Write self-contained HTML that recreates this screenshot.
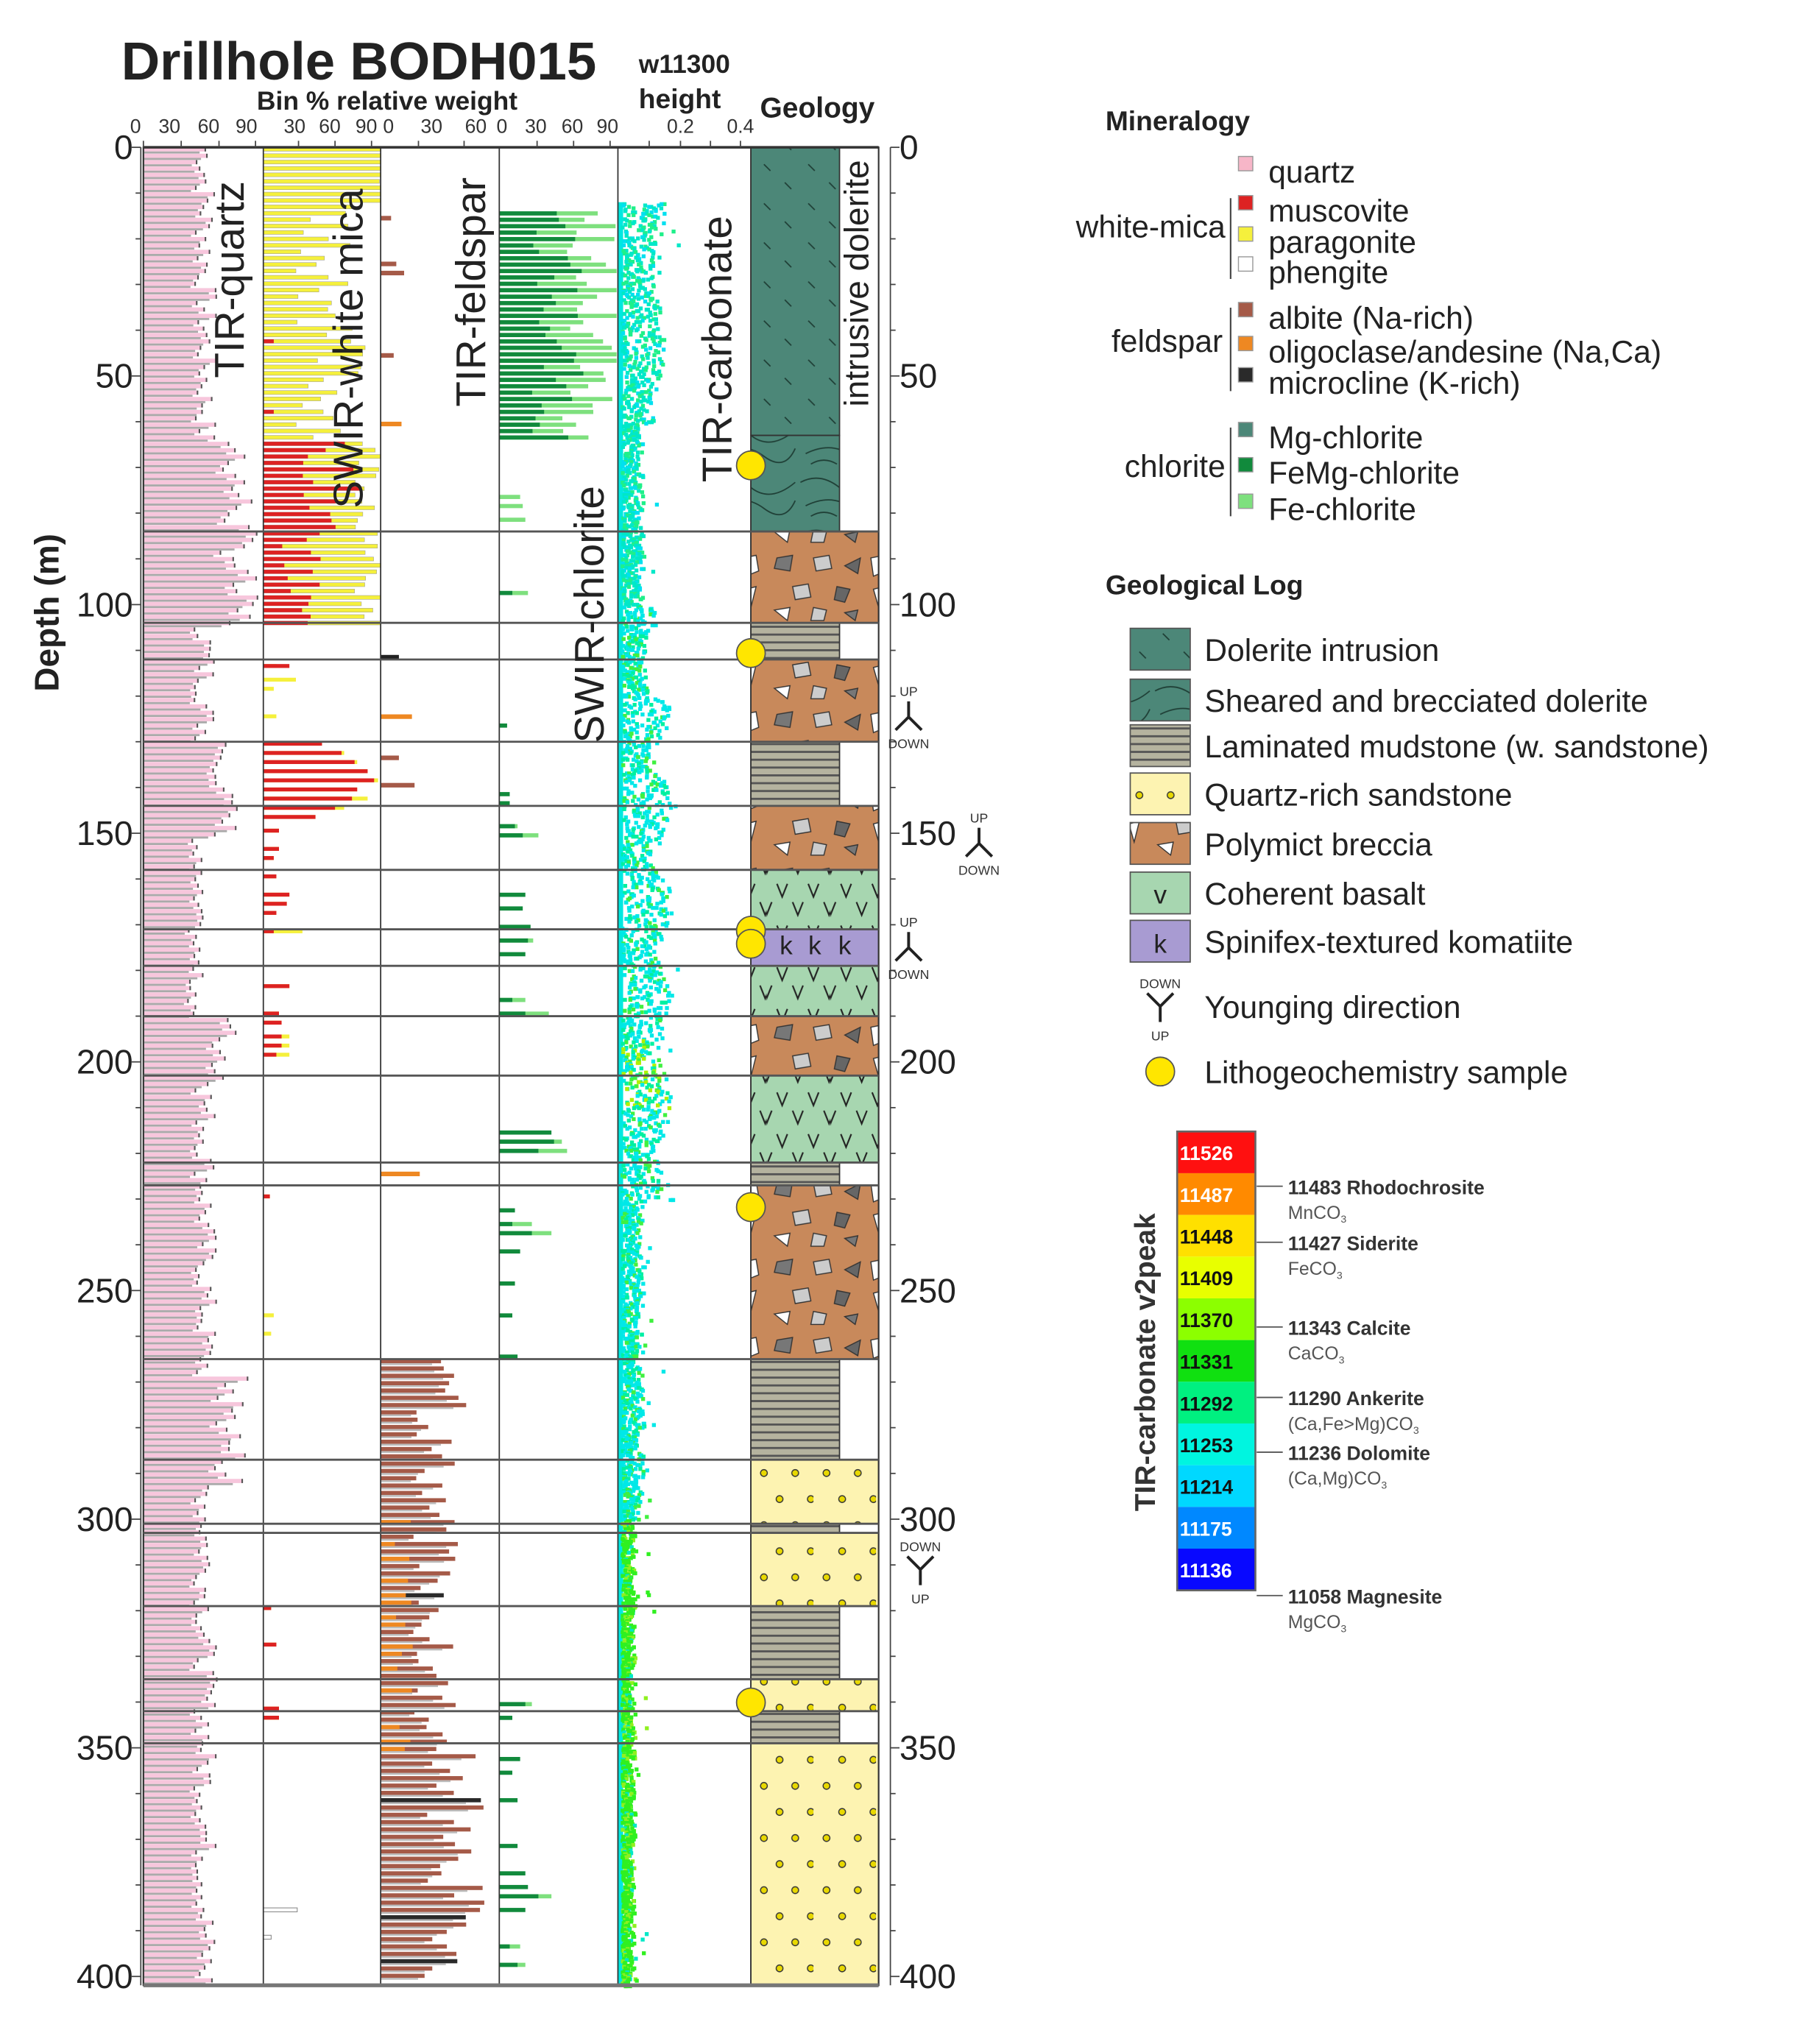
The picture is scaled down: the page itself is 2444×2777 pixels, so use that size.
<!DOCTYPE html>
<html><head><meta charset="utf-8"><style>
html,body{margin:0;padding:0;background:#fff;}
svg{display:block;font-family:"Liberation Sans",sans-serif;}
</style></head><body>
<svg id="s" width="2444" height="2777" viewBox="0 0 1380 1568" xmlns="http://www.w3.org/2000/svg">
<defs>
<pattern id="pDol" width="34" height="30" patternUnits="userSpaceOnUse">
<rect width="34" height="30" fill="#4c8778"/>
<path d="M8 6 l5 5 M24 20 l5 5" stroke="#1f3f36" stroke-width="1"/>
</pattern>
<pattern id="pShear" width="68" height="40" patternUnits="userSpaceOnUse">
<rect width="68" height="40" fill="#4c8778"/>
<path d="M2 10 q15 -8 30 4 t34 -4 M6 28 q20 -10 36 2 t24 -6 M10 36 q10 -6 20 0" stroke="#1f3f36" fill="none" stroke-width="1"/>
</pattern>
<pattern id="pLam" width="10" height="6" patternUnits="userSpaceOnUse">
<rect width="10" height="6" fill="#b5b39f"/>
<rect y="0" width="10" height="1.6" fill="#555"/>
</pattern>
<pattern id="pSand" width="48" height="40" patternUnits="userSpaceOnUse">
<rect width="48" height="40" fill="#fdf3b1"/>
<g fill="#e8d800" stroke="#333" stroke-width="0.8"><circle cx="10" cy="10" r="2.6"/><circle cx="34" cy="10" r="2.6"/><circle cx="22" cy="30" r="2.6"/><circle cx="46" cy="30" r="2.6"/></g>
</pattern>
<pattern id="pBrec" width="98" height="60" patternUnits="userSpaceOnUse">
<rect width="98" height="60" fill="#c8895b"/>
<g stroke="#333" stroke-width="0.8">
<polygon points="8,8 20,6 18,18 6,16" fill="#777"/>
<polygon points="36,8 48,6 50,16 38,18" fill="#ccc"/>
<polygon points="60,14 72,8 70,20" fill="#666"/>
<polygon points="80,8 90,6 92,18 82,22" fill="#fff"/>
<polygon points="20,30 32,28 34,38 22,40" fill="#ccc"/>
<polygon points="54,30 64,32 60,42 52,40" fill="#666"/>
<polygon points="82,32 90,30 86,46" fill="#fff"/>
<polygon points="6,48 18,46 16,56" fill="#fff"/>
<polygon points="36,46 46,48 44,56 34,56" fill="#ccc"/>
<polygon points="60,50 70,48 68,56" fill="#777"/>
</g>
</pattern>
<pattern id="pBas" width="49" height="32" patternUnits="userSpaceOnUse">
<rect width="49" height="32" fill="#a7d6b0"/>
<path d="M8 6 l4 10 l4 -10 M32 6 l4 10 l4 -10 M20 20 l4 10 l4 -10 M44 20 l4 10 l4 -10 M-4 20 l4 10 l4 -10" stroke="#222" fill="none" stroke-width="1.2"/>
</pattern>
</defs>
<g id="data"></g>
<g id="static">
<text x="93" y="61" font-size="41" font-weight="bold" fill="#222">Drillhole BODH015</text>
<text x="490" y="56" font-size="20" font-weight="bold" fill="#222">w11300</text>
<text x="490" y="83" font-size="21" font-weight="bold" fill="#222">height</text>
<text x="297" y="84" font-size="20" font-weight="bold" fill="#222" text-anchor="middle">Bin % relative weight</text>
<text x="583" y="90" font-size="22" font-weight="bold" fill="#222">Geology</text>
<text transform="translate(45,470) rotate(-90)" font-size="26" font-weight="bold" fill="#222" text-anchor="middle">Depth (m)</text>
</g>
</svg>
<script>
(function(){
var s=document.getElementById('data');var h='';
var Y=function(d){return 113+d*3.508;};
var seed=7;function r(){seed=(seed*9301+49297)%233280;return seed/233280;}
var bot=1523;
var cols=[110,202,292,383,474,576];
for(var d=0;d<401;d+=1.4){
 var v=40+r()*18; if(d>63&&d<104)v=60+r()*30; if(d>130&&d<150)v=55+r()*20; if(d>190&&d<205)v=50+r()*25; if(d>268&&d<292)v=55+r()*28;
 if(d>150&&d<190)v=35+r()*12;
 var w=v*0.98;var y=Y(d);
 h+='<rect x="110" y="'+y.toFixed(1)+'" width="'+w.toFixed(1)+'" height="3.2" fill="#f7c6dc"/><rect x="110" y="'+(y+3.2).toFixed(1)+'" width="'+(w*0.9).toFixed(1)+'" height="1.6" fill="#aaa"/><rect x="'+(110+w-1).toFixed(1)+'" y="'+y.toFixed(1)+'" width="1.2" height="3.2" fill="#555"/>';
}
for(d=0;d<104;d+=1.4){
 var y=Y(d);var tot,red=0;
 if(d<12){tot=88+r()*10;} else if(d<63){tot=25+r()*55;} else {tot=70+r()*25;red=30+r()*45;}
 if(d>84){red=10+r()*35;}
 if(d>40&&d<63&&r()<0.2)red=8;
 h+='<rect x="202" y="'+y.toFixed(1)+'" width="'+Math.min(tot,90).toFixed(1)+'" height="3" fill="#f5f03c" stroke="#999" stroke-width="0.3"/>';
 if(red)h+='<rect x="202" y="'+y.toFixed(1)+'" width="'+red.toFixed(1)+'" height="3" fill="#dd2222"/>';
}
var wm=[[113,20,10],[116,0,25],[118,0,8],[124,0,10],[130,45,45],[132,60,62],[134,70,72],[136,80,80],[138,85,88],[140,72,72],[142,68,80],[144,55,62],[146,40,40],[149,12,12],[153,12,12],[155,8,8],[159,10,10],[163,20,20],[165,18,18],[167,10,10],[171,8,30],[183,20,20],[189,12,12],[191,14,14],[194,14,20],[196,14,20],[198,10,20],[229,5,5],[255,0,8],[259,0,6],[319,6,6],[327,10,10],[341,12,12],[343,12,12]];
wm.forEach(function(a){var y=Y(a[0]);h+='<rect x="202" y="'+y.toFixed(1)+'" width="'+a[2]+'" height="3" fill="#f5f03c"/><rect x="202" y="'+y.toFixed(1)+'" width="'+a[1]+'" height="3" fill="#dd2222"/>';});
h+='<rect x="202" y="'+Y(385).toFixed(1)+'" width="26" height="3" fill="#fff" stroke="#888" stroke-width="0.6"/><rect x="202" y="'+Y(391).toFixed(1)+'" width="6" height="3" fill="#fff" stroke="#888" stroke-width="0.6"/>';
var fs=[[15,0,8],[25,0,12],[27,0,18],[45,0,10],[60,16,0],[111,0,0,14],[124,24,0],[133,0,14],[139,0,26],[224,30,0]];
fs.forEach(function(a){var y=Y(a[0]);h+='<rect x="292" y="'+y.toFixed(1)+'" width="'+(a[1]||a[2]||a[3])+'" height="3.5" fill="'+(a[1]?'#ee8822':(a[3]?'#222':'#a55a48'))+'"/>';});
for(d=265;d<401;d+=1.6){
 var y=Y(d);var v=25+r()*35; if(d<275)v=45+r()*30; if(d>350&&d<395)v=35+r()*45;
 var k=(r()<0.06)?'#2a2a2a':'#a55a48';
 h+='<rect x="292" y="'+y.toFixed(1)+'" width="'+v.toFixed(1)+'" height="3.2" fill="'+k+'"/><rect x="292" y="'+(y+3.2).toFixed(1)+'" width="'+(v*0.85).toFixed(1)+'" height="1.4" fill="#bbb"/>';
 if(d>300&&d<352&&r()<0.45)h+='<rect x="292" y="'+y.toFixed(1)+'" width="'+(10+r()*15).toFixed(1)+'" height="3.2" fill="#ee8822"/>';
}
for(d=14;d<64;d+=1.4){
 var y=Y(d);var dk=25+r()*40,tot=dk+15+r()*25;
 h+='<rect x="383" y="'+y.toFixed(1)+'" width="'+Math.min(tot,90).toFixed(1)+'" height="3.2" fill="#7ee07e"/><rect x="383" y="'+y.toFixed(1)+'" width="'+dk.toFixed(1)+'" height="3.2" fill="#118a3c"/>';
}
var ch=[[76,0,16],[78,0,18],[81,0,20],[97,10,22],[126,6,0],[141,8,0],[143,8,0],[148,12,14],[150,18,30],[163,20,0],[166,18,0],[170,24,0],[173,22,26],[176,20,0],[186,10,20],[189,20,38],[215,40,0],[217,42,48],[219,30,52],[232,12,0],[235,10,25],[237,25,40],[241,16,0],[248,12,0],[255,10,0],[264,14,0],[340,20,25],[343,10,0],[352,16,0],[355,10,0],[361,14,0],[371,14,0],[377,20,0],[380,22,0],[382,30,40],[385,20,0],[393,8,16],[397,14,20]];
ch.forEach(function(a){var y=Y(a[0]);if(a[2])h+='<rect x="383" y="'+y.toFixed(1)+'" width="'+a[2]+'" height="3.2" fill="#7ee07e"/>';h+='<rect x="383" y="'+y.toFixed(1)+'" width="'+a[1]+'" height="3.2" fill="#118a3c"/>';});
// carbonate scatter
h+='<rect x="474" y="'+Y(12)+'" width="4" height="'+(bot-Y(12))+'" fill="#00e8e0"/>';
for(d=12;d<402;d+=0.3){
 var env=12+10*Math.abs(Math.sin(d/9))+6*r();
 if(d<60)env+=6; if(d>60&&d<100)env=10+8*r();
 if(d>120&&d<230)env=18+14*Math.abs(Math.sin(d/7))+8*r();
 if(d>230&&d<300)env=10+8*r();
 if(d>300)env=5+6*r();
 var n=3;
 for(var i=0;i<n;i++){
  var x=476+r()*env+(r()<0.02?r()*20:0);
  var c; var q=r();
  if(d<100)c=q<0.5?'#00e8c8':(q<0.8?'#1ff08a':'#00e0f0');
  else if(d<300)c=q<0.6?'#00e8e8':(q<0.85?'#00f0a0':'#40f040');
  else c=q<0.7?'#30f020':(q<0.9?'#90f020':'#00e8c8');
  if(d>195&&d<210&&q<0.3)c='#b0f000';
  h+='<rect x="'+x.toFixed(1)+'" y="'+Y(d).toFixed(1)+'" width="3" height="3" fill="'+c+'"/>';
 }
}
var G=[[0,63,'pDol',644],[63,84,'pShear',644],[84,104,'pBrec',674],[104,112,'pLam',644],[112,130,'pBrec',674],[130,144,'pLam',644],[144,158,'pBrec',674],[158,171,'pBas',674],[171,179,'#a89bd2',674],[179,190,'pBas',674],[190,203,'pBrec',674],[203,222,'pBas',674],[222,227,'pLam',644],[227,265,'pBrec',674],[265,287,'pLam',644],[287,301,'pSand',674],[301,303,'pLam',644],[303,319,'pSand',674],[319,335,'pLam',644],[335,342,'pSand',674],[342,349,'pLam',644],[349,402,'pSand',674]];
G.forEach(function(g){var y1=Y(g[0]),y2=Math.min(Y(g[1]),bot);var f=g[2][0]=='#'?g[2]:'url(#'+g[2]+')';h+='<rect x="576" y="'+y1.toFixed(1)+'" width="'+(g[3]-576)+'" height="'+(y2-y1).toFixed(1)+'" fill="'+f+'" stroke="#333" stroke-width="1"/>';});
h+='<text x="598" y="732" font-size="20" fill="#222">k</text><text x="620" y="732" font-size="20" fill="#222">k</text><text x="643" y="732" font-size="20" fill="#222">k</text>';
h+='<rect x="110" y="113" width="564" height="'+(bot-113)+'" fill="none" stroke="#333" stroke-width="1.2"/>';
cols.forEach(function(x){h+='<line x1="'+x+'" y1="113" x2="'+x+'" y2="'+bot+'" stroke="#333" stroke-width="1"/>';});
h+='<line x1="110" y1="113" x2="674" y2="113" stroke="#333" stroke-width="2"/><line x1="110" y1="'+bot+'" x2="674" y2="'+bot+'" stroke="#777" stroke-width="3"/>';
[84,104,112,130,144,158,171,179,190,203,222,227,265,287,301,303,319,335,342,349].forEach(function(d){h+='<line x1="110" y1="'+Y(d).toFixed(1)+'" x2="674" y2="'+Y(d).toFixed(1)+'" stroke="#555" stroke-width="1.6"/>';});
h+='<line x1="108" y1="113" x2="108" y2="'+bot+'" stroke="#444"/><line x1="683" y1="113" x2="683" y2="'+bot+'" stroke="#444"/>';
for(d=0;d<=400;d+=10){var y=Y(d).toFixed(1);var L=d%50==0?7:4;h+='<line x1="'+(108-L)+'" y1="'+y+'" x2="108" y2="'+y+'" stroke="#444"/><line x1="683" y1="'+y+'" x2="'+(683+L)+'" y2="'+y+'" stroke="#444"/>';
 if(d%50==0){h+='<text x="102" y="'+(Y(d)+9).toFixed(1)+'" font-size="26" text-anchor="end" fill="#222">'+d+'</text><text x="690" y="'+(Y(d)+9).toFixed(1)+'" font-size="26" fill="#222">'+d+'</text>';}}
function tl(x,t){h+='<text x="'+x+'" y="102" font-size="15" text-anchor="middle" fill="#333">'+t+'</text>';}
[[104,'0'],[130,'30'],[160,'60'],[189,'90'],[226,'30'],[253,'60'],[281,'90'],[298,'0'],[331,'30'],[365,'60'],[385,'0'],[411,'30'],[439,'60'],[466,'90'],[522,'0.2'],[568,'0.4']].forEach(function(a){tl(a[0],a[1]);});
[110,139,168,196,229,257,285,321,356,412,440,468,498,522,545,568].forEach(function(x){h+='<line x1="'+x+'" y1="108" x2="'+x+'" y2="113" stroke="#444"/>';});
function rt(x,y,t,fs){h+='<text transform="translate('+x+','+y+') rotate(-90)" font-size="'+(fs||32)+'" fill="#222">'+t+'</text>';}
rt(187,290,'TIR-quartz');rt(278,390,'SWIR-white mica');rt(372,312,'TIR-feldspar');rt(463,570,'SWIR-chlorite');rt(561,370,'TIR-carbonate');rt(666,312,'intrusive dolerite',26);
[357,501,714,724,926,1306].forEach(function(y){h+='<circle cx="576" cy="'+y+'" r="11" fill="#ffe600" stroke="#555" stroke-width="1"/>';});
function yo(x,y,up){ if(up){h+='<text x="'+x+'" y="'+(y-14)+'" font-size="10" text-anchor="middle" fill="#333">UP</text><path d="M'+x+' '+(y-10)+' v12 l-10 10 M'+x+' '+(y+2)+' l10 10" stroke="#222" stroke-width="2.2" fill="none"/><text x="'+x+'" y="'+(y+26)+'" font-size="10" text-anchor="middle" fill="#333">DOWN</text>';}
 else{h+='<text x="'+x+'" y="'+(y-14)+'" font-size="10" text-anchor="middle" fill="#333">DOWN</text><path d="M'+x+' '+(y+12)+' v-12 l-10 -10 M'+x+' '+y+' l10 -10" stroke="#222" stroke-width="2.2" fill="none"/><text x="'+x+'" y="'+(y+26)+'" font-size="10" text-anchor="middle" fill="#333">UP</text>';}}
yo(697,548,1);yo(751,645,1);yo(697,725,1);yo(706,1204,0);
h+='<text x="848" y="100" font-size="21" font-weight="bold" fill="#222">Mineralogy</text>';
var ml=[[133,'#f7b6c8','quartz'],[163,'#dd2222','muscovite'],[187,'#f5f03c','paragonite'],[210,'#ffffff','phengite'],[245,'#a55a48','albite (Na-rich)'],[271,'#ee8822','oligoclase/andesine (Na,Ca)'],[295,'#2a2a2a','microcline (K-rich)'],[337,'#4c8778','Mg-chlorite'],[364,'#118a3c','FeMg-chlorite'],[392,'#7ee07e','Fe-chlorite']];
ml.forEach(function(a){h+='<rect x="950" y="'+(a[0]-13)+'" width="11" height="11" fill="'+a[1]+'" stroke="#999" stroke-width="0.8"/><text x="973" y="'+(a[0]+7)+'" font-size="24" fill="#222">'+a[2]+'</text>';});
h+='<text x="940" y="182" font-size="24" text-anchor="end" fill="#222">white-mica</text><text x="938" y="270" font-size="24" text-anchor="end" fill="#222">feldspar</text><text x="940" y="366" font-size="24" text-anchor="end" fill="#222">chlorite</text>';
h+='<path d="M944 152 v62 M944 236 v64 M944 328 v68" stroke="#444" stroke-width="1.2"/>';
h+='<text x="848" y="456" font-size="21" font-weight="bold" fill="#222">Geological Log</text>';
var gl=[[498,'pDol','Dolerite intrusion'],[537,'pShear','Sheared and brecciated dolerite'],[572,'pLam','Laminated mudstone (w. sandstone)'],[609,'pSand','Quartz-rich sandstone'],[647,'pBrec','Polymict breccia'],[685,'#a7d6b0','Coherent basalt'],[722,'#a89bd2','Spinifex-textured komatiite']];
gl.forEach(function(a){var f=a[1][0]=='#'?a[1]:'url(#'+a[1]+')';h+='<rect x="867" y="'+(a[0]-16)+'" width="46" height="32" fill="'+f+'" stroke="#555"/><text x="924" y="'+(a[0]+9)+'" font-size="24" fill="#222">'+a[2]+'</text>';});
h+='<text x="890" y="693" font-size="20" text-anchor="middle" fill="#222">v</text><text x="890" y="731" font-size="20" text-anchor="middle" fill="#222">k</text>';
yo(890,772,0);
h+='<text x="924" y="781" font-size="24" fill="#222">Younging direction</text>';
h+='<circle cx="890" cy="822" r="11" fill="#ffe600" stroke="#555"/><text x="924" y="831" font-size="24" fill="#222">Lithogeochemistry sample</text>';
var cb=[['#ff1010','11526','#fff'],['#ff8a00','11487','#fff'],['#ffe000','11448','#111'],['#e8ff00','11409','#111'],['#8cff00','11370','#111'],['#10e010','11331','#111'],['#00f080','11292','#111'],['#00f5e0','11253','#111'],['#00d8ff','11214','#111'],['#0088ff','11175','#fff'],['#0808ff','11136','#fff']];
cb.forEach(function(a,i){var y=868+i*32;h+='<rect x="903" y="'+y+'" width="60" height="32" fill="'+a[0]+'"/><text x="905" y="'+(y+22)+'" font-size="15" font-weight="bold" fill="'+a[2]+'">'+a[1]+'</text>';});
h+='<rect x="903" y="868" width="60" height="352" fill="none" stroke="#666" stroke-width="1.5"/>';
h+='<text transform="translate(886,1045) rotate(-90)" font-size="22" font-weight="bold" fill="#333" text-anchor="middle">TIR-carbonate v2peak</text>';
var cm=[[910,'11483 Rhodochrosite','MnCO'],[953,'11427 Siderite','FeCO'],[1018,'11343 Calcite','CaCO'],[1072,'11290 Ankerite','(Ca,Fe&gt;Mg)CO'],[1114,'11236 Dolomite','(Ca,Mg)CO'],[1224,'11058 Magnesite','MgCO']];
cm.forEach(function(a){h+='<line x1="964" y1="'+a[0]+'" x2="984" y2="'+a[0]+'" stroke="#555"/><text x="988" y="'+(a[0]+6)+'" font-size="15" font-weight="bold" fill="#333">'+a[1]+'</text><text x="988" y="'+(a[0]+25)+'" font-size="14" fill="#555">'+a[2]+'<tspan font-size="8" dy="3">3</tspan></text>';});
s.innerHTML=h;
})();
</script>
</body></html>
